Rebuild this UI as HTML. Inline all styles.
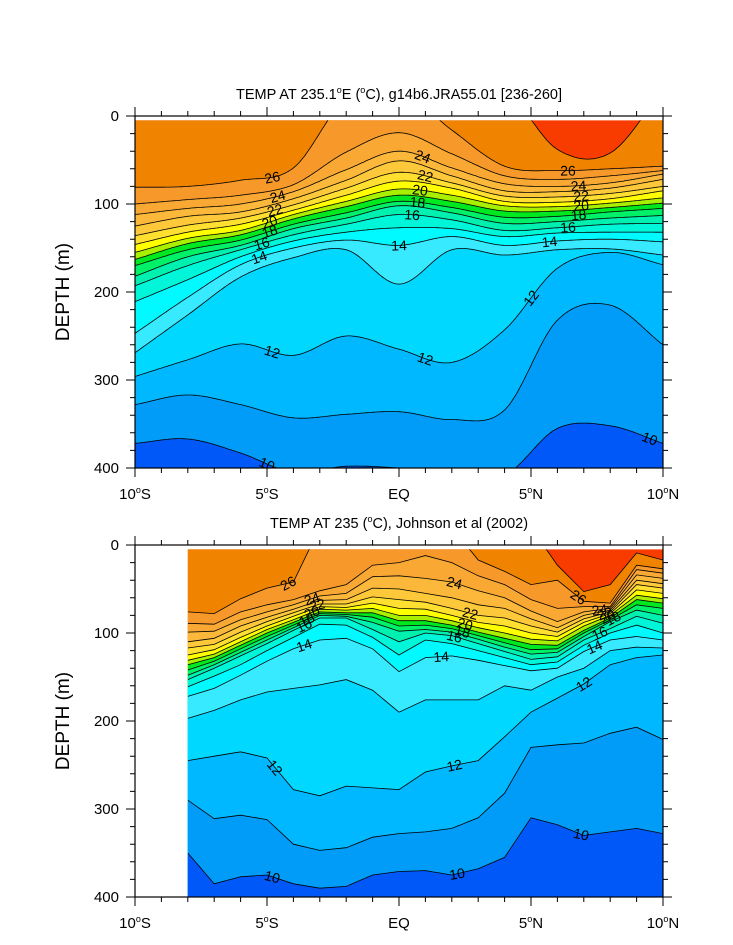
<!DOCTYPE html>
<html><head><meta charset="utf-8"><title>TEMP sections</title>
<style>
html,body{margin:0;padding:0;background:#fff;}
svg{display:block;font-family:"Liberation Sans",sans-serif;}
</style></head>
<body>
<svg id="chart" width="733" height="945" viewBox="0 0 733 945" xmlns="http://www.w3.org/2000/svg">
  <text x="399" y="99" font-size="14.5" text-anchor="middle">TEMP AT 235.1<tspan font-size="9" dy="-6">o</tspan><tspan dy="6">E (</tspan><tspan font-size="9" dy="-6">o</tspan><tspan dy="6">C), g14b6.JRA55.01 [236-260]</tspan></text>
  <text x="399" y="528" font-size="14.5" text-anchor="middle">TEMP AT 235 (<tspan font-size="9" dy="-6">o</tspan><tspan dy="6">C), Johnson et al (2002)</tspan></text>
  <text x="0" y="0" font-size="19" text-anchor="middle" transform="translate(69,292) rotate(-90)">DEPTH (m)</text>
  <text x="0" y="0" font-size="19" text-anchor="middle" transform="translate(69,721) rotate(-90)">DEPTH (m)</text>
  <g id="topPanel"></g>
  <g id="botPanel"></g>
</svg>
<script>
// ---- data: isotherm depths (m) per latitude ----
const topLats = [-10,-8,-6,-4,-2,0,2,4,6,8,10];
const topLevels = [27,26,25,24,23,22,21,20,19,18,17,16,15,14,13,12,11,10];
const top27 = [-30,-30,-30,-30,-30,-30,-30,-30,38,42,-30];
const top26 = [81,80,73,59,-20,-30,16,57,62,60,57];
const top25 = [100,95,90,78,41,19,43,68,72,68,62];
const top24 = [112,105,100,86,61,40,59,77,80,76,66];
const top23 = [125,114,109,94,73,51,68,85,86,82,72];
const top22 = [136,124,116,101,82,64,76,91,92,88,80];
const top21 = [146,132,123,107,90,74,82,97,98,94,85];
const top20 = [155,139,130,112,97,83,90,102,103,99,93];
const top19 = [163,145,135,117,103,90,97,108,108,104,99];
const top18 = [170,152,141,123,110,97,104,115,114,109,105];
const top17 = [182,160,147,128,116,102,110,122,120,116,113];
const top16 = [193,170,152,135,123,112,118,130,127,123,122];
const top15 = [211,186,160,142,132,127,128,137,133,132,132];
const top14 = [247,206,169,150,141,147,137,147,142,140,143];
const top13 = [269,226,183,161,152,191,152,158,152,151,158];
const top12 = [296,277,259,272,250,265,280,243,173,155,169];
const top11 = [328,317,328,343,339,336,345,334,232,215,260];
const top10 = [372,367,383,405,398,400,405,408,355,352,372];
const topSeries = [top27,top26,top25,top24,top23,top22,top21,top20,top19,top18,top17,top16,top15,top14,top13,top12,top11,top10];

const botLats = [-8,-7,-6,-5,-4,-3,-2,-1,0,1,2,3,4,5,6,7,8,9,10];
const botLevels = [27,26,25,24,23,22,21,20,19,18,17,16,15,14,13,12,11,10];
const bot27 = [-30,-30,-30,-30,-30,-30,-30,-30,-30,-30,-30,-30,-30,-20,23,53,45,9,17];
const bot26 = [76,78,61,49,42,-20,-20,-20,-20,-20,-20,17,30,45,40,64,66,23,27];
const bot25 = [89,90,76,68,62,52,45,23,20,12,20,35,45,62,72,70,70,28,32];
const bot24 = [99,98,85,76,68,58,55,36,35,38,42,52,60,75,87,76,72,34,38];
const bot23 = [110,106,92,82,73,63,62,49,50,55,60,68,72,84,94,80,74,40,44];
const bot22 = [117,113,99,87,77,67,67,59,62,65,72,80,83,92,99,84,76,45,49];
const bot21 = [125,119,105,92,81,70,71,66,72,73,80,88,92,100,104,88,78,51,55];
const bot20 = [131,124,110,96,85,73,74,72,80,80,86,94,100,107,109,92,80,57,61];
const bot19 = [136,128,114,100,88,76,77,77,86,86,91,99,106,113,114,97,83,62,66];
const bot18 = [142,132,118,104,91,78,79,82,92,91,95,103,111,119,118,100,85,68,72];
const bot17 = [148,136,122,108,94,80,81,88,98,96,99,107,116,124,122,104,87,74,80];
const bot16 = [153,140,126,112,97,83,83,96,110,100,103,112,121,130,127,108,95,81,89];
const bot15 = [161,149,136,120,105,90,91,105,125,108,112,120,128,136,133,114,100,91,100];
const bot14 = [172,163,148,132,118,108,106,118,144,128,126,131,137,143,140,121,108,104,108];
const bot13 = [197,188,176,167,163,159,153,165,190,176,176,176,160,165,150,140,120,116,117];
const bot12 = [245,240,235,242,278,285,274,276,278,258,251,245,218,190,174,158,136,128,125];
const bot11 = [290,311,307,312,340,347,344,332,328,326,322,310,282,230,227,225,214,207,221];
const bot10 = [350,385,377,375,385,390,388,375,371,370,375,368,355,310,318,330,326,322,328];
const botSeries = [bot27,bot26,bot25,bot24,bot23,bot22,bot21,bot20,bot19,bot18,bot17,bot16,bot15,bot14,bot13,bot12,bot11,bot10];

// contour labels
const topLabelLevels = [26,26,24,24,24,22,22,22,20,20,20,18,18,18,16,16,16,14,14,14,12,12,12,10,10,10];
const topLabelLats   = [-4.8,6.4,-4.6,0.9,6.8,-4.7,1.0,6.9,-4.9,0.8,6.9,-4.9,0.7,6.8,-5.2,0.5,6.4,-5.3,0.0,5.7,-4.8,1.0,5.0,-5.0,1.0,9.5];
const botLabelLevels = [26,26,24,24,24,22,22,22,20,20,20,18,18,18,16,16,16,14,14,14,12,12,12,10,10,10];
const botLabelLats   = [-4.2,6.8,-3.3,2.1,7.6,-3.1,2.7,7.8,-3.3,2.5,7.9,-3.5,2.4,8.1,-3.6,2.1,7.6,-3.6,1.6,7.4,-4.7,2.1,7.0,-4.8,2.2,6.9];

// colour table (band lower bound 9..27)
const bandColors = ['#0058f8','#009cf8','#00b8ff','#00d8ff','#38eaff','#00faff','#00f6d8','#00f0b0','#00f068','#00e820','#a8f000','#ffff00','#ffe030','#fdc83a','#fbb83a','#f9a834','#f7982a','#f08400','#f83c00'];

const NS = 'http://www.w3.org/2000/svg';
function el(tag, attrs, parent){
  const e = document.createElementNS(NS, tag);
  for (const k in attrs) e.setAttribute(k, attrs[k]);
  parent.appendChild(e);
  return e;
}
function catmull(xs, ys, x){
  let i = 0;
  while (i < xs.length-2 && x > xs[i+1]) i++;
  const p1=ys[i], p2=ys[i+1];
  const p0 = i>0 ? ys[i-1] : 2*p1-p2;
  const p3 = i+2<ys.length ? ys[i+2] : 2*p2-p1;
  const t = (x-xs[i])/(xs[i+1]-xs[i]);
  const t2=t*t, t3=t2*t;
  return 0.5*((2*p1)+(-p0+p2)*t+(2*p0-5*p1+4*p2-p3)*t2+(-p0+3*p1-3*p2+p3)*t3);
}
function linear(xs, ys, x){
  let i = 0;
  while (i < xs.length-2 && x > xs[i+1]) i++;
  const t = (x-xs[i])/(xs[i+1]-xs[i]);
  return ys[i]+(ys[i+1]-ys[i])*t;
}

function drawPanel(g, cfg){
  const x0=135, x1=663, y0=cfg.y0, y1=cfg.y0+352;
  const xOf = lat => x0 + (lat+10)/20*(x1-x0);
  const yOf = d => y0 + d/400*(y1-y0);
  const lats = cfg.lats, latMin = lats[0], latMax = lats[lats.length-1];
  const f = cfg.smooth ? catmull : linear;
  const step = cfg.smooth ? 0.05 : null;
  const clipId = cfg.id + 'Clip';
  const defs = el('defs', {}, g);
  const cp = el('clipPath', {id: clipId}, defs);
  el('rect', {x: xOf(latMin), y: yOf(5), width: x1-xOf(latMin), height: y1-yOf(5)}, cp);
  const plot = el('g', {'clip-path': 'url(#'+clipId+')'}, g);
  
  
  const bg = el('rect', {x: xOf(latMin), y: yOf(0), width: x1-xOf(latMin), height: y1-yOf(0), fill: bandColors[18]}, plot);
  
  
  function curvePts(vals){
    const pts = [];
    if (step){
      for (let la = latMin; la <= latMax + 1e-6; la += step) pts.push([xOf(la), yOf(f(lats, vals, la))]);
    } else {
      for (let i = 0; i < lats.length; i++) pts.push([xOf(lats[i]), yOf(vals[i])]);
    }
    return pts;
  }
  const lineStrs = [];
  cfg.levels.forEach((L, k) => {
    const pts = curvePts(cfg.series[k]);
    const ls = pts.map((p,i)=>(i?'L':'M')+p[0].toFixed(1)+','+p[1].toFixed(1)).join('');
    lineStrs.push([L, ls]);
    const poly = el('path', {d: ls + 'L'+(x1+5)+','+(y1+10)+'L'+(xOf(latMin)-5)+','+(y1+10)+'Z', fill: bandColors[L-1-9]}, plot);
    
    
  });
  lineStrs.forEach(([L, ls]) => {
    const ln = el('path', {d: ls, fill: 'none', stroke: '#000', 'stroke-width': 0.8}, plot);
    
    
  });
  cfg.labelLevels.forEach((L, k) => {
    const la = cfg.labelLats[k];
    const vals = cfg.series[cfg.levels.indexOf(L)];
    const d = f(lats, vals, la);
    if (d < 5 || d > 400) return;
    const dA = f(lats, vals, Math.max(latMin, la-0.3)), dB = f(lats, vals, Math.min(latMax, la+0.3));
    const xa = xOf(Math.max(latMin, la-0.3)), xb = xOf(Math.min(latMax, la+0.3));
    let ang = Math.atan2(yOf(dB)-yOf(dA), xb-xa)*180/Math.PI;
    if (ang > 90) ang -= 180; if (ang < -90) ang += 180;
    const t = el('text', {x: 0, y: 0, 'font-size': 14, 'text-anchor': 'middle', 'dominant-baseline': 'central',
      transform: 'translate('+xOf(la).toFixed(1)+','+yOf(d).toFixed(1)+') rotate('+ang.toFixed(1)+')'}, plot);
    t.textContent = String(L);
    
    
  });
  const fr = el('rect', {x: x0, y: y0, width: x1-x0, height: y1-y0, fill: 'none', stroke: '#000', 'stroke-width': 1.2}, g);
  
  
  let tk = '';
  for (let la = -10; la <= 10; la++){
    const x = xOf(la), len = (la % 5 === 0) ? 9 : 5;
    tk += 'M'+x+','+y1+'v'+len+'M'+x+','+y0+'v'+(-len);
  }
  for (let d = 0; d <= 400; d += 20){
    const y = yOf(d), len = (d % 100 === 0) ? 9 : 5;
    tk += 'M'+x0+','+y+'h'+(-len)+'M'+x1+','+y+'h'+len;
  }
  const ticks = el('path', {d: tk, stroke: '#000', 'stroke-width': 1, fill: 'none'}, g);
  
  
  const xl = [['10','S',-10],['5','S',-5],['EQ','',0],['5','N',5],['10','N',10]];
  xl.forEach(([n, h, la]) => {
    const t = el('text', {x: xOf(la), y: y1+31, 'font-size': 15, 'text-anchor': 'middle'}, g);
    if (h){
      t.innerHTML = n + '<tspan font-size="9" dy="-6">o</tspan><tspan dy="6">' + h + '</tspan>';
    } else t.textContent = n;
    
    
  });
  for (let d = 0; d <= 400; d += 100){
    const t = el('text', {x: x0-16, y: yOf(d)+5, 'font-size': 15, 'text-anchor': 'end'}, g);
    t.textContent = String(d);
    
    
  }
}
drawPanel(document.getElementById('topPanel'), {id:'top', y0:116, lats: topLats, levels: topLevels, series: topSeries, smooth: true, labelLevels: topLabelLevels, labelLats: topLabelLats});
drawPanel(document.getElementById('botPanel'), {id:'bot', y0:545, lats: botLats, levels: botLevels, series: botSeries, smooth: false, labelLevels: botLabelLevels, labelLats: botLabelLats});
</script>
</body></html>
